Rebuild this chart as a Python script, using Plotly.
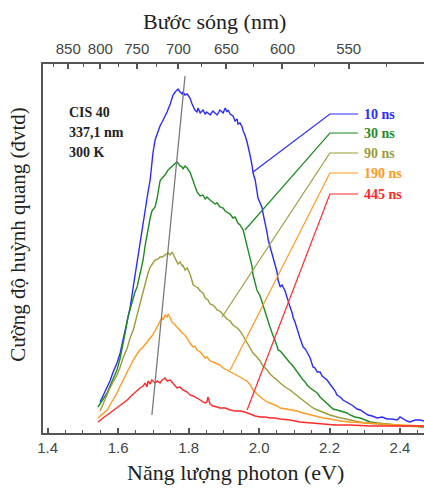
import plotly.graph_objects as go

# ---------------- data (photon energy in eV, intensity in arbitrary units) ----------------
series_names = ["10 ns", "30 ns", "90 ns", "190 ns", "445 ns"]
series_colors = ["#2b2bff", "#1f8c1f", "#9c9c3a", "#ff9a22", "#ff2a2a"]

spec_10ns = [(1.549,31),(1.557,37),(1.569,46),(1.577,52),(1.586,61),(1.597,70),(1.606,80),(1.614,92),(1.626,110),
 (1.634,125),(1.643,146),(1.654,171),(1.662,193),(1.671,211),(1.677,223),(1.685,241),(1.691,253),(1.699,280),
 (1.705,293),(1.714,303),(1.719,307),(1.725,311),(1.733,316),(1.739,321),(1.748,329),(1.753,335),(1.756,338),
 (1.762,341),(1.767,343),(1.770,344),(1.776,341),(1.782,339),(1.784,341),(1.790,338),(1.796,339),(1.804,335),
 (1.810,329),(1.813,326),(1.818,323),(1.824,321),(1.827,325),(1.833,320),(1.841,323),(1.847,319),(1.852,321),
 (1.861,318),(1.869,322),(1.875,320),(1.881,318),(1.889,323),(1.898,320),(1.904,325),(1.909,321),(1.912,323),
 (1.918,319),(1.926,317),(1.932,312),(1.938,314),(1.940,309),(1.946,310),(1.952,306),(1.955,302),(1.960,298),
 (1.966,291),(1.969,285),(1.975,277),(1.980,268),(1.983,260),(1.989,253),(1.994,243),(1.997,235),(2.003,230),
 (2.009,225),(2.011,220),(2.017,211),(2.023,200),(2.026,193),(2.031,187),(2.037,180),(2.045,170),(2.051,161),
 (2.054,153),(2.060,146),(2.065,148),(2.074,142),(2.079,136),(2.082,132),(2.088,126),(2.094,120),(2.097,115),
 (2.102,111),(2.111,100),(2.116,95),(2.125,86),(2.131,84),(2.136,81),(2.145,75),(2.153,66),(2.159,65),(2.165,61),
 (2.173,61),(2.179,57),(2.187,55),(2.193,53),(2.201,49),(2.210,45),(2.216,42),(2.221,38),(2.230,36),(2.238,33),
 (2.250,31),(2.258,29),(2.267,27),(2.278,24),(2.287,23),(2.295,21),(2.309,18),(2.321,17),(2.335,15),(2.349,16),
 (2.363,14),(2.377,14),(2.392,13),(2.400,16),(2.409,14),(2.420,12),(2.428,11),(2.443,13),(2.457,13),(2.468,12)]

spec_30ns = [(1.543,26),(1.549,29),(1.557,34),(1.569,40),(1.577,47),(1.586,55),(1.597,63),(1.606,75),(1.614,88),
 (1.620,100),(1.628,116),(1.634,124),(1.643,135),(1.648,141),(1.654,146),(1.662,160),(1.671,173),(1.677,188),
 (1.685,206),(1.691,215),(1.696,222),(1.705,226),(1.711,235),(1.719,252),(1.725,255),(1.728,256),(1.733,258),
 (1.742,263),(1.748,265),(1.753,266),(1.762,269),(1.767,271),(1.770,270),(1.776,267),(1.782,266),(1.784,264),
 (1.790,267),(1.796,265),(1.804,261),(1.810,255),(1.813,250),(1.818,247),(1.824,241),(1.833,237),(1.841,238),
 (1.847,234),(1.852,236),(1.861,233),(1.869,231),(1.875,229),(1.881,230),(1.889,226),(1.898,225),(1.904,222),
 (1.912,220),(1.918,219),(1.926,215),(1.932,216),(1.940,210),(1.946,208),(1.955,203),(1.960,196),(1.966,189),
 (1.975,175),(1.980,167),(1.983,158),(1.989,151),(1.994,143),(2.003,137),(2.009,130),(2.017,121),(2.023,115),
 (2.031,106),(2.037,100),(2.045,93),(2.051,87),(2.054,83),(2.060,82),(2.065,80),(2.074,76),(2.079,73),(2.088,70),
 (2.094,68),(2.102,64),(2.108,61),(2.116,57),(2.125,53),(2.131,51),(2.136,48),(2.145,45),(2.153,43),(2.165,40),
 (2.173,36),(2.182,33),(2.193,29),(2.201,26),(2.210,24),(2.221,23),(2.230,22),(2.238,21),(2.250,20),(2.258,18),
 (2.272,16),(2.287,15),(2.301,13),(2.315,11),(2.335,10),(2.357,9),(2.386,8),(2.414,7),(2.443,7),(2.468,6)]

spec_90ns = [(1.549,22),(1.557,29),(1.569,38),(1.577,45),(1.586,51),(1.597,58),(1.606,66),(1.614,75),(1.626,85),
 (1.634,95),(1.643,103),(1.654,118),(1.662,131),(1.671,141),(1.677,150),(1.685,160),(1.691,166),(1.699,170),
 (1.705,173),(1.714,174),(1.719,176),(1.725,176),(1.733,178),(1.742,180),(1.748,178),(1.753,181),(1.756,179),
 (1.762,175),(1.767,171),(1.770,169),(1.776,171),(1.782,167),(1.784,168),(1.790,163),(1.796,165),(1.804,159),
 (1.810,152),(1.813,148),(1.818,147),(1.827,145),(1.833,142),(1.841,140),(1.847,135),(1.855,133),(1.861,129),
 (1.869,128),(1.875,126),(1.881,123),(1.889,122),(1.898,118),(1.909,114),(1.918,112),(1.926,108),(1.938,105),
 (1.946,102),(1.955,97),(1.966,90),(1.975,85),(1.983,80),(1.994,76),(2.003,72),(2.011,67),(2.023,63),(2.031,59),
 (2.040,56),(2.051,53),(2.060,50),(2.074,46),(2.088,43),(2.102,39),(2.116,35),(2.131,31),(2.145,27),(2.159,24),
 (2.173,22),(2.187,20),(2.201,18),(2.221,16),(2.244,14),(2.272,12),(2.301,10),(2.335,9),(2.372,8),(2.414,7),
 (2.468,6)]

spec_190ns = [(1.543,15),(1.549,17),(1.557,20),(1.569,23),(1.577,28),(1.586,33),(1.597,40),(1.606,47),(1.614,53),
 (1.626,61),(1.634,67),(1.643,73),(1.654,79),(1.662,83),(1.671,86),(1.677,89),(1.685,93),(1.691,95),(1.696,97),
 (1.705,102),(1.711,106),(1.719,112),(1.725,115),(1.728,113),(1.733,118),(1.739,116),(1.742,119),(1.748,115),
 (1.753,111),(1.762,108),(1.767,106),(1.776,103),(1.782,100),(1.790,98),(1.796,94),(1.804,90),(1.813,86),
 (1.818,87),(1.824,83),(1.833,81),(1.841,78),(1.847,75),(1.852,76),(1.861,72),(1.869,71),(1.881,69),(1.889,68),
 (1.898,65),(1.909,63),(1.918,61),(1.926,60),(1.938,58),(1.946,56),(1.955,54),(1.966,52),(1.975,48),(1.983,43),
 (1.994,39),(2.003,36),(2.011,34),(2.023,31),(2.031,30),(2.040,29),(2.051,27),(2.060,25),(2.074,24),(2.088,23),
 (2.108,22),(2.125,20),(2.145,18),(2.165,16),(2.182,15),(2.201,14),(2.230,12),(2.258,11),(2.301,10),(2.343,9),
 (2.400,8),(2.468,7)]

spec_445ns = [(1.543,11),(1.549,13),(1.557,15),(1.569,18),(1.577,20),(1.586,23),(1.597,25),(1.606,28),(1.614,30),
 (1.626,33),(1.634,36),(1.643,39),(1.654,43),(1.662,45),(1.671,47),(1.677,50),(1.682,46),(1.685,52),(1.691,49),
 (1.696,53),(1.705,50),(1.711,52),(1.719,50),(1.725,53),(1.733,55),(1.739,52),(1.748,53),(1.753,51),(1.762,48),
 (1.767,45),(1.776,46),(1.784,43),(1.796,41),(1.804,38),(1.813,37),(1.824,35),(1.833,33),(1.841,31),(1.847,30),
 (1.852,31),(1.855,36),(1.861,29),(1.869,27),(1.881,26),(1.889,25),(1.904,25),(1.918,23),(1.932,22),(1.946,22),
 (1.960,21),(1.975,19),(1.989,17),(2.003,16),(2.017,16),(2.031,15),(2.045,15),(2.060,14),(2.088,13),(2.116,11),
 (2.145,10),(2.173,9),(2.216,8),(2.258,8),(2.315,7),(2.386,7),(2.468,7)]

spectra = [spec_10ns, spec_30ns, spec_90ns, spec_190ns, spec_445ns]

# peak-shift guide line (energy, intensity)
guide_E = [1.696, 1.790]
guide_I = [18, 357]

# label leader lines: attach point on each curve, label row heights
leader_E = [1.983, 1.960, 1.895, 1.918, 1.966]
leader_I = [261, 203, 116, 63, 23]
label_I = [319, 300, 280, 260, 239]
knee_E = 2.201
line_end_E = 2.281
label_E = 2.292

info_lines = ["CIS 40", "337,1 nm", "300 K"]
info_I = [321, 301, 281]
info_E = 1.455

wl_major = [850, 800, 750, 700, 650, 600, 550]
wl_minor = [875, 825, 775, 725, 675, 625, 575, 525]
HC = 1239.84  # eV*nm

x_range = [1.387, 2.468]
y_range = [0, 369]

SERIF = "Liberation Serif"
SANS = "Liberation Sans"
AXC = "#555555"

fig = go.Figure()

for name, color, spec in zip(series_names, series_colors, spectra):
    fig.add_trace(go.Scatter(x=[p[0] for p in spec], y=[p[1] for p in spec], mode="lines",
                             line=dict(color=color, width=1.4), name=name, hoverinfo="skip"))

fig.add_trace(go.Scatter(x=guide_E, y=guide_I, mode="lines", line=dict(color="#7a7a7a", width=1.3),
                         hoverinfo="skip"))

for color, e0, i0, li in zip(series_colors, leader_E, leader_I, label_I):
    fig.add_trace(go.Scatter(x=[e0, knee_E, line_end_E], y=[i0, li, li], mode="lines",
                             line=dict(color=color, width=1.2), hoverinfo="skip"))

# dummy trace for top axis
fig.add_trace(go.Scatter(x=x_range, y=[None, None], xaxis="x2", mode="lines", hoverinfo="skip"))

annotations = []
for name, color, li in zip(series_names, series_colors, label_I):
    annotations.append(dict(x=label_E, y=li, xref="x", yref="y", text="<b>%s</b>" % name, showarrow=False,
                            xanchor="left", yanchor="middle", font=dict(family=SERIF, size=14, color=color)))
for t, yi in zip(info_lines, info_I):
    annotations.append(dict(x=info_E, y=yi, xref="x", yref="y", text="<b>%s</b>" % t, showarrow=False,
                            xanchor="left", yanchor="middle", font=dict(family=SERIF, size=14, color="#222")))
annotations.append(dict(x=0.449, y=1.1165, xref="paper", yref="paper", text="Bước sóng (nm)", showarrow=False,
                        xanchor="center", yanchor="middle", font=dict(family=SERIF, size=22, color="#222")))
annotations.append(dict(x=0.504, y=-0.108, xref="paper", yref="paper", text="Năng lượng photon (eV)",
                        showarrow=False, xanchor="center", yanchor="middle",
                        font=dict(family=SERIF, size=22, color="#222")))
annotations.append(dict(x=-0.0656, y=0.537, xref="paper", yref="paper", text="Cường độ huỳnh quang (đvtd)",
                        showarrow=False, textangle=-90, xanchor="center", yanchor="middle",
                        font=dict(family=SERIF, size=21, color="#222")))

tickfont = dict(family=SANS, size=15, color="#444")

fig.update_layout(
    width=424, height=488, margin=dict(l=43, r=0, t=64, b=55),
    paper_bgcolor="white", plot_bgcolor="white", showlegend=False,
    annotations=annotations,
    xaxis=dict(range=x_range, showline=True, linecolor=AXC, linewidth=2, ticks="inside", ticklen=5,
               tickwidth=1.5, tickcolor=AXC, tick0=1.4, dtick=0.2, tickformat=".1f", tickfont=tickfont,
               minor=dict(dtick=0.05, tick0=1.4, ticks="inside", ticklen=3, tickcolor=AXC, tickwidth=1.2),
               showgrid=False, zeroline=False, ticklabelstandoff=0),
    xaxis2=dict(range=x_range, overlaying="x", side="top", anchor="y", showline=True, linecolor=AXC,
                linewidth=2, tickmode="array", tickvals=[HC / w for w in wl_major],
                ticktext=[str(w) for w in wl_major], ticks="inside", ticklen=5, tickwidth=1.5, tickcolor=AXC,
                minor=dict(tickmode="array", tickvals=[HC / w for w in wl_minor], ticks="inside", ticklen=3,
                           tickcolor=AXC, tickwidth=1.2),
                tickfont=tickfont, showgrid=False, zeroline=False, ticklabelstandoff=2),
    yaxis=dict(range=y_range, showline=True, linecolor=AXC, linewidth=2, showticklabels=False, ticks="",
               showgrid=False, zeroline=False),
)

fig.write_html("out.html", config={"displayModeBar": False})
